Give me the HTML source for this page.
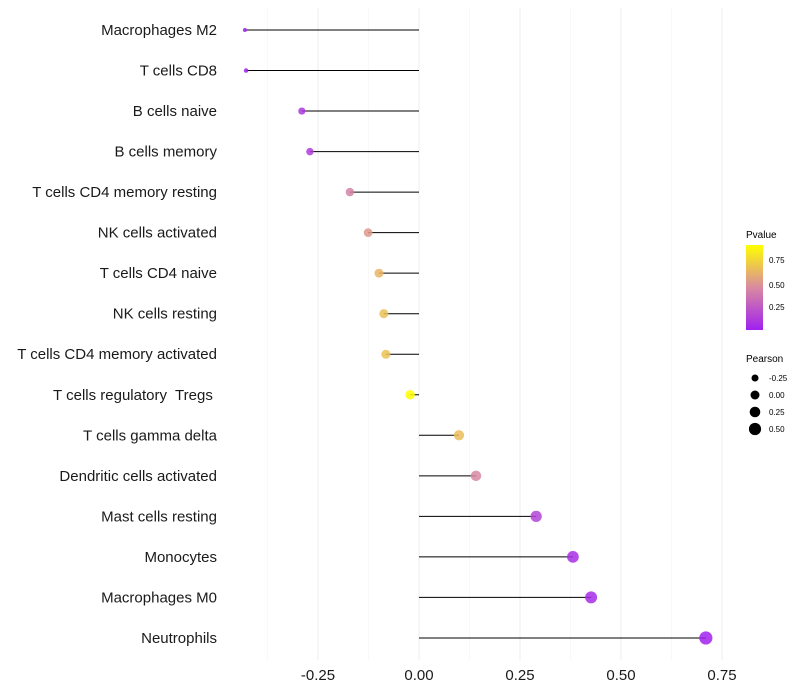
<!DOCTYPE html>
<html><head><meta charset="utf-8"><style>
html,body{margin:0;padding:0;background:#fff;}
svg{display:block;font-family:"Liberation Sans",sans-serif;}
#ylabels text{white-space:pre;}
</style></head><body>
<svg id="chart" width="800" height="700">
<defs>
<linearGradient id="pg" x1="0" y1="1" x2="0" y2="0">
<stop offset="0" stop-color="#a020f0"/><stop offset="0.5" stop-color="#d98aa0"/><stop offset="1" stop-color="#ffff00"/>
</linearGradient>
</defs>
<g id="grid"></g>
<g id="marks"></g>
<g id="ylabels"></g>
<g id="xlabels"></g>
<g>
<text x="746" y="238" font-size="10">Pvalue</text>
<rect x="746" y="245" width="17" height="85" fill="url(#pg)"/>
<text x="769" y="263" font-size="8">0.75</text>
<text x="769" y="288" font-size="8">0.50</text>
<text x="769" y="310" font-size="8">0.25</text>
</g>
<g>
<text x="746" y="362" font-size="10">Pearson</text>
<circle cx="755" cy="378" r="3.5" fill="#000"/>
<circle cx="755" cy="395" r="4.5" fill="#000"/>
<circle cx="755" cy="412" r="5.3" fill="#000"/>
<circle cx="755" cy="429" r="6.1" fill="#000"/>
<text x="769" y="381" font-size="8">-0.25</text>
<text x="769" y="398" font-size="8">0.00</text>
<text x="769" y="415" font-size="8">0.25</text>
<text x="769" y="432" font-size="8">0.50</text>
</g>
</svg>
<script>
const categories=["Macrophages M2","T cells CD8","B cells naive","B cells memory","T cells CD4 memory resting","NK cells activated","T cells CD4 naive","NK cells resting","T cells CD4 memory activated","T cells regulatory  Tregs ","T cells gamma delta","Dendritic cells activated","Mast cells resting","Monocytes","Macrophages M0","Neutrophils"];
const pearson=[-0.431,-0.428,-0.29,-0.27,-0.171,-0.126,-0.099,-0.087,-0.082,-0.022,0.099,0.141,0.29,0.381,0.426,0.71];
const pvalues=[0.0,0.0,0.1,0.12,0.42,0.52,0.63,0.67,0.68,0.95,0.66,0.45,0.15,0.06,0.05,0.01];
const xTicks=[-0.25,0,0.25,0.5,0.75];
const xTickLabels=["-0.25","0.00","0.25","0.50","0.75"];
const NS="http://www.w3.org/2000/svg";
const xs=v=>419+v*404;
const ys=i=>30+i*40.53;
const pmin=Math.min(...pearson),pmax=Math.max(...pearson);
const rs=p=>{const t=(p-pmin)/(pmax-pmin);return 2+4.6*Math.sqrt(t);};
function lerp(a,b,t){return a.map((v,k)=>Math.round(v+(b[k]-v)*t));}
function col(p){const t=Math.min(1,p/0.92);const A=[160,32,240],M=[217,138,160],B=[255,255,0];
 const c=t<0.5?lerp(A,M,t*2):lerp(M,B,(t-0.5)*2);return `rgb(${c[0]},${c[1]},${c[2]})`;}
function mk(tag,attrs,parent){const e=document.createElementNS(NS,tag);for(const k in attrs)e.setAttribute(k,attrs[k]);parent.appendChild(e);return e;}
const grid=document.getElementById('grid');
for(let v=-0.375;v<=0.76;v+=0.125){
 const major=Math.abs((v*4)-Math.round(v*4))<1e-6;
 const l=mk('line',{x1:xs(v),x2:xs(v),y1:8,y2:660,stroke:major?'#ececec':'#f4f4f4','stroke-width':major?1:0.6},grid);
 
 
}
const marks=document.getElementById('marks'),yl=document.getElementById('ylabels'),xl=document.getElementById('xlabels');
categories.forEach((c,i)=>{
 const y=ys(i);
 const ln=mk('line',{x1:xs(0),x2:xs(pearson[i]),y1:y,y2:y,stroke:'#000','stroke-width':1},marks);
 
 
 const pt=mk('circle',{cx:xs(pearson[i]),cy:y,r:rs(pearson[i]),fill:col(pvalues[i]),'fill-opacity':0.85},marks);
 
 
 const t=mk('text',{x:217,y:y+5,'text-anchor':'end','font-size':15,fill:'#1a1a1a'},yl);
 t.textContent=c;
 
 
});
xTicks.forEach((v,i)=>{
 const t=mk('text',{x:xs(v),y:680,'text-anchor':'middle','font-size':15,fill:'#1a1a1a'},xl);
 t.textContent=xTickLabels[i];
 
 
});
</script>
</body></html>
